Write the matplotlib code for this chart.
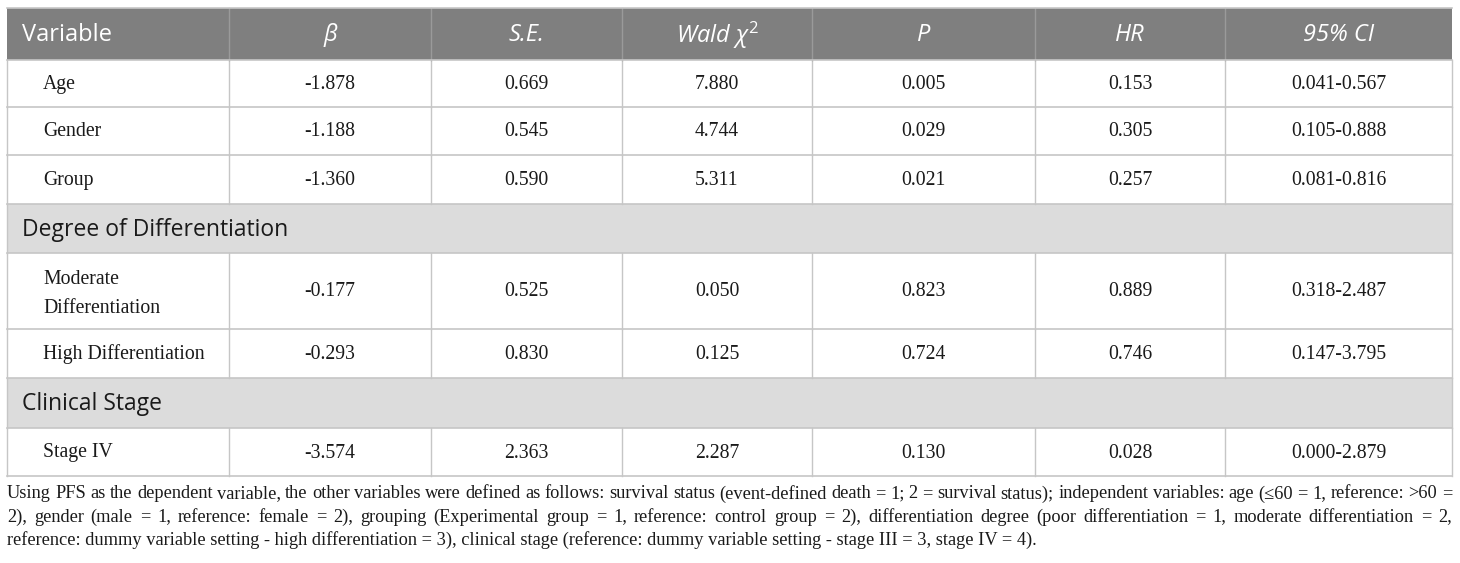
import matplotlib
matplotlib.use("Agg")
import matplotlib.pyplot as plt

# table content
headers = ["Variable", "β", "S.E.", "Wald $\\chi^2$", "P", "HR", "95% CI"]
row_names = ["Age", "Gender", "Group", "Degree of Differentiation",
             "Moderate\nDifferentiation", "High Differentiation",
             "Clinical Stage", "Stage IV"]
is_section = [False, False, False, True, False, False, True, False]
beta = ["-1.878", "-1.188", "-1.360", "", "-0.177", "-0.293", "", "-3.574"]
se = ["0.669", "0.545", "0.590", "", "0.525", "0.830", "", "2.363"]
wald = ["7.880", "4.744", "5.311", "", "0.050", "0.125", "", "2.287"]
pval = ["0.005", "0.029", "0.021", "", "0.823", "0.724", "", "0.130"]
hr = ["0.153", "0.305", "0.257", "", "0.889", "0.746", "", "0.028"]
ci = ["0.041-0.567", "0.105-0.888", "0.081-0.816", "", "0.318-2.487",
      "0.147-3.795", "", "0.000-2.879"]

footnote = [
    "Using PFS as the dependent variable, the other variables were defined as follows: survival status (event-defined death = 1; 2 = survival status); independent variables: age (≤60 = 1, reference: >60 =",
    "2), gender (male = 1, reference: female = 2), grouping (Experimental group = 1, reference: control group = 2), differentiation degree (poor differentiation = 1, moderate differentiation = 2,",
    "reference: dummy variable setting - high differentiation = 3), clinical stage (reference: dummy variable setting - stage III = 3, stage IV = 4).",
]

# layout in pixels
col_x = [7, 229, 431, 622, 812, 1035, 1225, 1452]
row_y = [8, 60, 107, 155, 204, 253, 329, 378, 428, 476]

plt.rcParams["mathtext.fontset"] = "custom"
plt.rcParams["mathtext.it"] = "Open Sans:italic"
plt.rcParams["mathtext.rm"] = "Open Sans"

fig = plt.figure(figsize=(14.6, 5.63), dpi=100)
ax = fig.add_axes([0, 0, 1, 1])
ax.set_xlim(0, 1460)
ax.set_ylim(563, 0)
ax.axis("off")

line_c = "#c6c6c6"
txt_c = "#1a1a1a"
serif = "Liberation Serif"
sans = "Open Sans"
body_fs = 14.2

# header band
ax.add_patch(plt.Rectangle((col_x[0], row_y[0]), col_x[-1] - col_x[0],
                           row_y[1] - row_y[0], color="#7f7f7f", lw=0))
for i, h in enumerate(headers):
    yc = (row_y[0] + row_y[1]) / 2 + 1
    if i == 0:
        ax.text(22, yc, h, color="white", fontsize=17, family=sans,
                va="center", ha="left")
    else:
        ax.text((col_x[i] + col_x[i + 1]) / 2, yc, h, color="white",
                fontsize=17, family=sans, style="italic", va="center",
                ha="center")

# body rows
for r, name in enumerate(row_names):
    y0, y1 = row_y[r + 1], row_y[r + 2]
    yc = (y0 + y1) / 2
    if is_section[r]:
        ax.add_patch(plt.Rectangle((col_x[0], y0), col_x[-1] - col_x[0],
                                   y1 - y0, color="#dcdcdc", lw=0))
        ax.text(22, yc + 1, name, fontsize=16.5, family=sans, color=txt_c,
                va="center", ha="left")
        continue
    nudge = 3 if "\n" in name else 1
    ax.text(43, yc + nudge, name, fontsize=body_fs, family=serif, color=txt_c,
            va="center", ha="left", linespacing=1.65)
    vals = [beta[r], se[r], wald[r], pval[r], hr[r], ci[r]]
    for j, v in enumerate(vals):
        ax.text((col_x[j + 1] + col_x[j + 2]) / 2, yc + 1, v, fontsize=body_fs,
                family=serif, color=txt_c, va="center", ha="center")
    for x in col_x:
        ax.plot([x, x], [y0, y1], color=line_c, lw=1)

# header vertical separators
for x in col_x[1:-1]:
    ax.plot([x, x], [row_y[0], row_y[1]], color="#9a9a9a", lw=1)
# section rows outer borders
for r in range(len(row_names)):
    if is_section[r]:
        for x in (col_x[0], col_x[-1]):
            ax.plot([x, x], [row_y[r + 1], row_y[r + 2]], color=line_c, lw=1)

# horizontal lines
for y in row_y:
    ax.plot([col_x[0], col_x[-1]], [y, y], color=line_c, lw=1.2)

# justified footnote
fig.canvas.draw()
renderer = fig.canvas.get_renderer()
foot_y = [494, 517, 540]
foot_fs = 13.2
width = col_x[-1] - col_x[0]
for k, line in enumerate(footnote):
    if k == len(footnote) - 1:
        ax.text(col_x[0], foot_y[k], line, fontsize=foot_fs, family=serif,
                color=txt_c, va="center", ha="left")
        continue
    words = line.split(" ")
    texts = [ax.text(0, foot_y[k], w, fontsize=foot_fs, family=serif,
                     color=txt_c, va="center", ha="left") for w in words]
    widths = [t.get_window_extent(renderer).width for t in texts]
    gap = (width - sum(widths)) / (len(words) - 1)
    x = col_x[0]
    for t, w in zip(texts, widths):
        t.set_x(x)
        x += w + gap

fig.savefig("out.png", dpi=100)
